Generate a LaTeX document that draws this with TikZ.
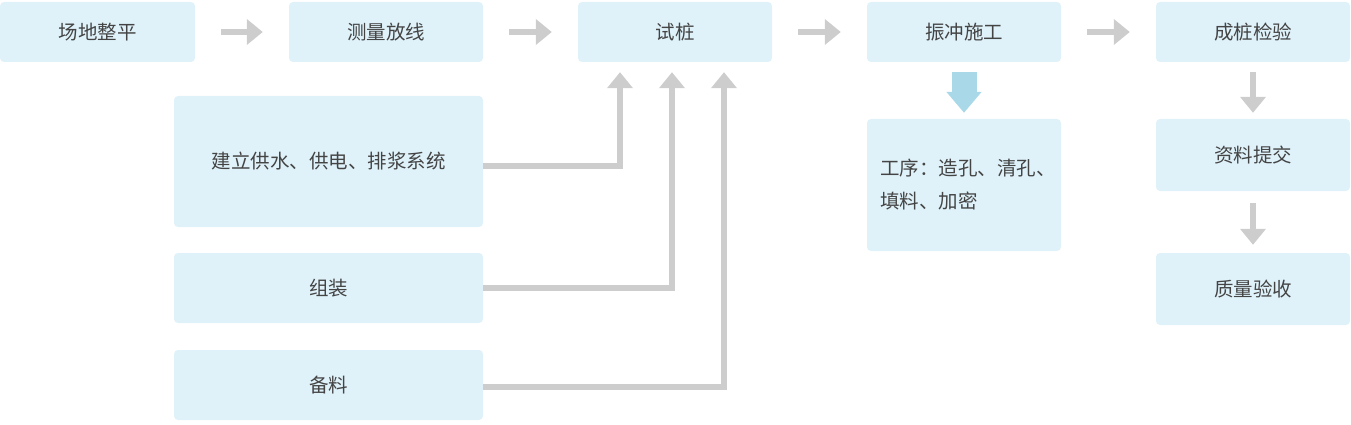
\documentclass[tikz,border=0pt]{standalone}
\usepackage{fontspec}
\setmainfont{Noto Sans CJK SC}
\usetikzlibrary{arrows.meta}
\definecolor{boxblue}{HTML}{DFF2FA}
\definecolor{arrowgray}{HTML}{CDCDCD}
\definecolor{arrowblue}{HTML}{A9D8E8}
\definecolor{textgray}{HTML}{444444}
\tikzset{
		step box/.style={fill=boxblue,rounded corners=4pt,text=textgray,
			font=\fontsize{19.5}{33}\selectfont,inner sep=0pt,
			minimum width=194pt,minimum height=60pt},
		flow/.style={draw=arrowgray,line width=5.5pt,
			-{Triangle[width=25pt,length=16pt]}},
		bigflow/.style={draw=arrowblue,line width=25pt,
			-{Triangle[width=34pt,length=21pt]}}
	}
\begin{document}
\begin{tikzpicture}[x=1pt,y=-1pt]
		\useasboundingbox (0,0) rectangle (1351,425);
		% main line
		\node[step box,minimum width=195pt] (level) at (97.5,32) {场地整平};
		\node[step box] (survey) at (386,32) {测量放线};
		\node[step box] (trial) at (675,32) {试桩};
		\node[step box] (vibro) at (964,32) {振冲施工};
		\node[step box] (check) at (1253,32) {成桩检验};
		% preparations
		\node[step box,minimum width=309pt,minimum height=131pt] (supply) at (328.5,161.5) {建立供水、供电、排浆系统};
		\node[step box,minimum width=309pt,minimum height=70pt] (assemble) at (328.5,288) {组装};
		\node[step box,minimum width=309pt,minimum height=70pt] (stock) at (328.5,385) {备料};
		% process and records
		\node[step box,minimum height=132pt,text width=168pt,inner xsep=13pt,align=left] (process) at (964,185) {工序：造孔、清孔、\\填料、加密};
		\node[step box,minimum height=72pt] (records) at (1253,155) {资料提交};
		\node[step box,minimum height=72pt] (accept) at (1253,289) {质量验收};

		\foreach \a/\b in {level/survey,survey/trial,trial/vibro,vibro/check}
			\draw[flow] ([xshift=26pt]\a.east) -- ([xshift=-26pt]\b.west);

		\draw[flow] ([yshift=-4.5pt]supply.east) -| ([xshift=-55pt,yshift=-10pt]trial.south);
		\draw[flow] (assemble.east) -| ([xshift=-3pt,yshift=-10pt]trial.south);
		\draw[flow] ([yshift=-2pt]stock.east) -| ([xshift=49pt,yshift=-10pt]trial.south);

		\draw[bigflow] ([yshift=-10pt]vibro.south) -- ([yshift=6pt]process.north);
		\draw[flow] ([yshift=-10pt]check.south) -- ([yshift=6pt]records.north);
		\draw[flow] ([yshift=-12pt]records.south) -- ([yshift=8pt]accept.north);
	\end{tikzpicture}
\end{document}
